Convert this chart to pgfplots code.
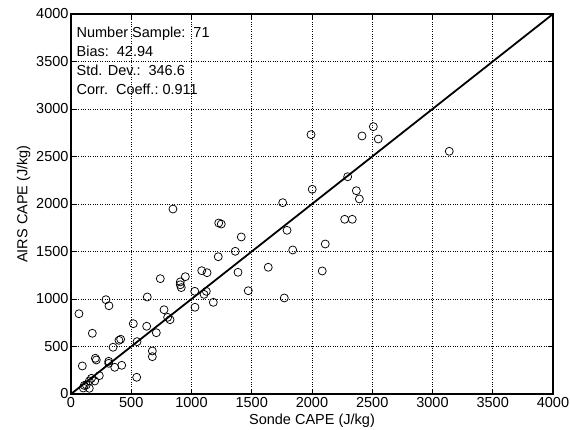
\documentclass[border=0pt]{standalone}
\usepackage{fontspec}
\setmainfont{Liberation Sans}
\usepackage{pgfplots}
\pgfplotsset{compat=1.18}
\begin{document}
\begin{tikzpicture}
\useasboundingbox (0,0) rectangle (570pt,430pt);
\begin{axis}[
  at={(71pt,36pt)}, anchor=south west,
  width=482pt, height=380pt, scale only axis,
  xmin=0, xmax=4000, ymin=0, ymax=4000,
  xtick={0,500,...,4000}, ytick={0,500,...,4000},
  /pgf/number format/assume math mode=true,
  /pgf/number format/1000 sep={},
  tick label style={font=\fontsize{14.5}{16}\selectfont},
  xticklabel style={yshift=0pt},
  yticklabel style={xshift=1pt},
  label style={font=\fontsize{14.5}{16}\selectfont},
  xlabel={Sonde CAPE (J/kg)}, ylabel={AIRS CAPE (J/kg)},
  xlabel style={yshift=1pt}, ylabel style={yshift=-1pt},
  grid=major, major grid style={black, dotted, line width=0.6pt},
  tick align=inside, major tick length=5pt,
  xtick pos=both, ytick pos=both,
  axis line style={line width=1.4pt},
  every tick/.style={black, line width=0.6pt},
  clip=false,
]
\addplot[only marks, mark=o, mark size=4pt, mark options={line width=0.75pt}] coordinates {
(1222,1445) (1085,1298) (1129,1277) (949,1235) (741,1214) (907,1180) (907,1150) (915,1120)
(1027,1081) (1104,1049) (1123,1081) (1181,965) (1029,913) (633,1021) (290,993) (315,929)
(66,845) (772,887) (802,807) (822,782) (517,740) (628,713) (177,639) (708,645)
(412,576) (398,565) (349,492) (548,551) (675,453) (675,393) (202,376) (210,358)
(313,344) (313,323) (421,302) (363,281) (94,295) (545,176) (235,193) (197,137)
(152,137) (127,95) (102,63) (152,60) (110,90) (170,165)
(1363,1502) (1840,1516) (1386,1281) (1637,1334) (2085,1295) (1471,1087) (1770,1011)
(846,1947) (1226,1800) (1247,1789) (2296,2287) (2002,2155) (2368,2140) (2393,2053)
(1757,2014) (2271,1839) (2334,1839) (1793,1723) (1413,1653) (2110,1579)
(2509,2814) (2415,2716) (2550,2684) (3139,2555) (1992,2730)
};
\addplot[black, line width=1.8pt] coordinates {(0,0) (4000,4000)};
\node[anchor=north west, align=left, inner sep=0pt, font=\fontsize{14.5}{19}\selectfont]
  at (axis cs:45,3860) {Number Sample:\ \ 71\\Bias:\ \ 42.94\\Std. Dev.:\ \ 346.6\\Corr.\ \ Coeff.:\ 0.911};
\end{axis}
\end{tikzpicture}
\end{document}
